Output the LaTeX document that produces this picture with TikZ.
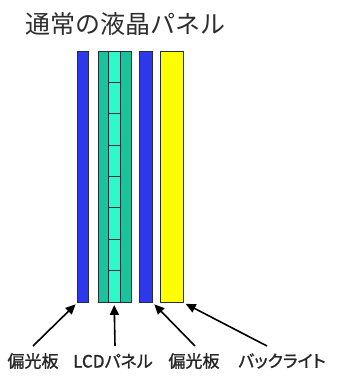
\documentclass[tikz,border=0pt]{standalone}
\usepackage{fontspec}
\newfontfamily\jp{Noto Sans CJK JP}
\newfontfamily\jpl[FakeBold=1.2,RawFeature=+palt]{Noto Sans CJK JP}
\usetikzlibrary{arrows.meta}
\definecolor{polblue}{RGB}{45,55,235}
\definecolor{tealdark}{RGB}{25,195,155}
\definecolor{teallight}{RGB}{45,250,200}
\definecolor{yel}{RGB}{255,255,0}
\definecolor{edgec}{RGB}{35,45,60}
\definecolor{titlec}{RGB}{45,45,45}
\tikzset{
  panel/.style={draw=edgec,line width=0.9pt,inner sep=0pt,anchor=north west,minimum height=251pt},
  lbl/.style={font=\jpl\fontsize{17}{17}\selectfont,text=black!85,inner sep=0pt},
  arr/.style={-{Triangle[length=10pt,width=9pt]},line width=1.6pt,black,shorten >=2pt}
}
\begin{document}
\begin{tikzpicture}[x=1pt,y=-1pt]
\useasboundingbox (0,0) rectangle (337,376);
\node[font=\jp\fontsize{25}{25}\selectfont,text=titlec,inner sep=0pt] (title) at (126,24) {通常の液晶パネル};
% panels
\node[panel,fill=polblue,minimum width=11pt] (pol1) at (77,51) {};
\node[panel,fill=tealdark,minimum width=10.5pt] (lcdl) at (97.5,51) {};
\node[panel,fill=teallight,minimum width=11.5pt] (lcdm) at (108,51) {};
\node[panel,fill=tealdark,minimum width=11.5pt] (lcdr) at (119.5,51) {};
\node[panel,fill=polblue,minimum width=13pt] (pol2) at (139,51) {};
\node[panel,fill=yel,minimum width=23pt] (back) at (160,51) {};
\foreach \k in {1,...,7}{
  \draw[edgec,line width=0.9pt] (108,{51+\k*251/8}) -- (119.5,{51+\k*251/8});
}
% labels
\node[lbl] (l1) at (33,361) {偏光板};
\node[lbl] (l2) at (113,361) {LCDパネル};
\node[lbl] (l3) at (194,361) {偏光板};
\node[lbl] (l4) at (282,361) {バックライト};
\coordinate (t1) at (33,346);
\coordinate (t2) at (115,346);
\coordinate (t3) at (195,346);
\coordinate (t4) at (267,346);
\draw[arr] (t1) -- (pol1.south west);
\draw[arr] (t2) -- (lcdm.south);
\draw[arr] (t3) -- (pol2.south east);
\draw[arr] (t4) -- (back.south east);
\end{tikzpicture}
\end{document}
